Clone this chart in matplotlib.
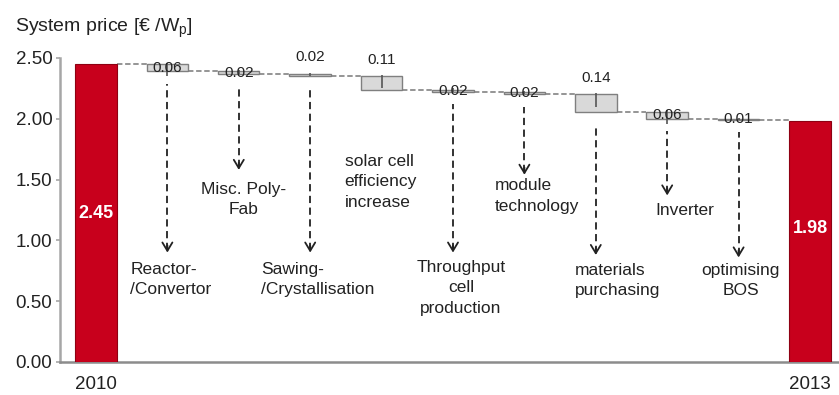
import matplotlib
matplotlib.use("Agg")
import matplotlib.pyplot as plt

plt.rcParams["font.family"] = ["Liberation Sans", "DejaVu Sans"]

# --- data -------------------------------------------------------------
year_labels = ["2010", "2013"]
start_value = 2.45
end_value = 1.98
step_labels = [
    "Reactor-\n/Convertor",
    "Misc. Poly-\nFab",
    "Sawing-\n/Crystallisation",
    "solar cell\nefficiency\nincrease",
    "Throughput\ncell\nproduction",
    "module\ntechnology",
    "materials\npurchasing",
    "Inverter",
    "optimising\nBOS",
]
step_savings = [0.06, 0.02, 0.02, 0.11, 0.02, 0.02, 0.14, 0.06, 0.01]
y_ticks = [0.00, 0.50, 1.00, 1.50, 2.00, 2.50]

# --- layout of annotations ---------------------------------------------
value_above = [False, False, True, True, False, False, True, False, False]
arrow_tip = [0.90, 1.58, 0.90, None, 0.90, 1.54, 0.88, 1.37, 0.86]
label_x = [1.05, 2.06, 3.11, 3.99, 5.11, 6.18, 7.31, 8.24, 9.03]
label_top = [0.825, 1.48, 0.825, 1.71, 0.84, 1.51, 0.815, 1.31, 0.815]
label_align = ["left", "center", "left", "left", "center",
               "left", "left", "center", "center"]

RED = "#c8001c"
RED_EDGE = "#8e0012"
TEXT = "#222222"
BOX_FILL = "#d9d9d9"
BOX_EDGE = "#7f7f7f"
LINK = "#8c8c8c"
W = 0.58

fig = plt.figure(figsize=(8.39, 3.95), dpi=100)
ax = fig.add_axes([60 / 839, 33 / 395, (838 - 60) / 839, (362 - 58) / 395])

n = len(step_savings)
last = n + 1

# start and end totals
ax.bar([0, last], [start_value, end_value], width=W, color=RED,
       edgecolor=RED_EDGE, linewidth=0.8, zorder=3)
for x, v, frac in [(0, start_value, 0.5), (last, end_value, 0.555)]:
    ax.text(x, v * frac, f"{v:.2f}", ha="center", va="center",
            color="white", fontsize=13, fontweight="bold", zorder=5)

# floating saving boxes
level = start_value
for i, d in enumerate(step_savings):
    x = i + 1
    top = level
    bottom = level - d
    ax.bar(x, d, bottom=bottom, width=W, color=BOX_FILL, edgecolor=BOX_EDGE,
           linewidth=1.0, zorder=3)
    tick_len = 0.1 if d > 0.05 else d
    ax.vlines(x, top - tick_len, top + 0.01, colors="#555555", lw=1.2, zorder=4)
    # connector from previous bar
    ax.hlines(top, x - 1 + W / 2, x - W / 2, colors=LINK,
              linestyles=(0, (3, 1.5)), lw=1.3, zorder=2)
    if value_above[i]:
        ax.annotate(f"{d:.2f}", (x, top), xytext=(0, 7), textcoords="offset points",
                    ha="center", va="bottom", fontsize=11, color=TEXT, zorder=5)
    else:
        ax.text(x, (top + bottom) / 2, f"{d:.2f}", ha="center", va="center",
                fontsize=11, color=TEXT, zorder=5)
    # dashed arrow down to the description
    if arrow_tip[i] is not None:
        start = bottom - 0.1
        ax.vlines(x, arrow_tip[i] + 0.02, start, colors=TEXT,
                  linestyles=(0, (4, 2.5)), lw=1.3, zorder=2)
        ax.annotate("", xy=(x, arrow_tip[i]), xytext=(x, arrow_tip[i] + 0.06),
                    arrowprops=dict(arrowstyle="->,head_length=0.5,head_width=0.3",
                                    color=TEXT, lw=1.3, shrinkA=0, shrinkB=0,
                                    mutation_scale=12), zorder=2)
    ax.text(label_x[i], label_top[i], step_labels[i], ha="center", va="top",
            multialignment=label_align[i], fontsize=12.5, color=TEXT,
            linespacing=1.45, zorder=5)
    level = bottom

# connector to the final bar
ax.hlines(level, n + W / 2, last - W / 2, colors=LINK,
          linestyles=(0, (3, 1.5)), lw=1.3, zorder=2)

ax.set_xlim(-0.504, 10.392)
ax.set_ylim(0, 2.5)
ax.set_yticks(y_ticks, [f"{t:.2f}" for t in y_ticks])
ax.set_xticks([0, last], year_labels)
ax.tick_params(axis="y", length=3, width=1.2, color="#a6a6a6", pad=2.5,
               labelsize=13.5, labelcolor=TEXT)
ax.tick_params(axis="x", length=0, pad=10, labelsize=13.5, labelcolor=TEXT)
for s in ["top", "right"]:
    ax.spines[s].set_visible(False)
ax.spines["left"].set_color("#a6a6a6")
ax.spines["left"].set_linewidth(1.8)
ax.spines["bottom"].set_color("#8c8c8c")
ax.spines["bottom"].set_linewidth(1.8)

fig.text(15 / 839, 1 - 28 / 395, r"System price [€ /W$_\mathregular{p}$]",
         ha="left", va="center", fontsize=14, color=TEXT)

fig.savefig("out.png", dpi=100)
